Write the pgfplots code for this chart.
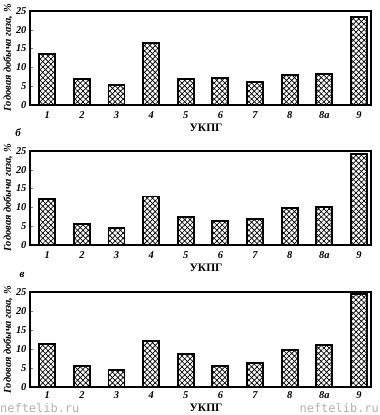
\documentclass[border=0pt]{standalone}
\usepackage{fontspec}
\setmainfont{Liberation Serif}
\newfontfamily\wm{DejaVu Sans Mono}
\usepackage{pgfplots}
\usepackage{pgfplotstable}
\pgfplotsset{compat=1.18}
\usetikzlibrary{patterns.meta}

\pgfplotstableread{
x a b c
0 13.5 12.3 11.3
1 7.0 5.7 5.6
2 5.4 4.5 4.4
3 16.6 12.9 12.1
4 7.0 7.5 8.8
5 7.1 6.5 5.6
6 6.2 6.8 6.4
7 7.9 9.9 9.8
8 8.2 10.1 11.1
9 23.4 24.1 24.4
}\data

\pgfplotsset{panel/.style={
 width=341bp, height=#1, scale only axis,
 xmin=-0.5, xmax=9.35, ymin=0, ymax=25,
 ytick={0,5,...,25}, xtick={0,...,9}, xticklabels={1,2,3,4,5,6,7,8,8a,9},
 major tick length=3bp, tick align=inside, ytick pos=left,
 xtick style={draw=none},
 tick label style={font=\fontsize{10.5}{10.5}\selectfont\bfseries\itshape},
 /pgf/number format/assume math mode=true,
 axis line style={line width=1.1pt},
 ybar, bar width=16bp,
 anchor=south west,
}}
\tikzset{barsty/.style={draw=black, line width=1.9pt, pattern={Hatch[angle=45,distance=3.8pt,line width=0.7pt]}}}

\begin{document}
\begin{tikzpicture}
\path[use as bounding box] (0,0) rectangle (380bp,415bp);
% panel a
\begin{axis}[panel=94bp, at={(30bp,310bp)}]
\addplot[barsty] table[x=x,y=a]{\data};
\end{axis}
% panel b
\begin{axis}[panel=94bp, at={(30bp,170bp)}]
\addplot[barsty] table[x=x,y=b]{\data};
\end{axis}
% panel c
\begin{axis}[panel=95bp, at={(30bp,28bp)}, xticklabel style={yshift=1.5bp}]
\addplot[barsty] table[x=x,y=c]{\data};
\end{axis}
\foreach \yc in {357,217,75}{
\node[rotate=90, font=\fontsize{10.5}{10.5}\selectfont\bfseries\itshape] at (8bp,\yc bp) {Годовая добыча газа, \%};
}
\node[font=\fontsize{11.5}{11.5}\selectfont\bfseries] at (206bp,287bp) {УКПГ};
\node[font=\fontsize{11.5}{11.5}\selectfont\bfseries] at (206bp,147bp) {УКПГ};
\node[font=\fontsize{11.5}{11.5}\selectfont\bfseries] at (206bp,7bp) {УКПГ};
\node[font=\fontsize{11}{11}\selectfont\bfseries\itshape] at (18bp,282bp) {б};
\node[font=\fontsize{11}{11}\selectfont\bfseries\itshape] at (22bp,140bp) {в};
\node[font=\wm\fontsize{12}{12}\selectfont, text=gray!60, anchor=south west, inner sep=0pt] at (0bp,2bp) {neftelib.ru};
\node[font=\wm\fontsize{12}{12}\selectfont, text=gray!60, anchor=south east, inner sep=0pt] at (379bp,2bp) {neftelib.ru};
\end{tikzpicture}
\end{document}
